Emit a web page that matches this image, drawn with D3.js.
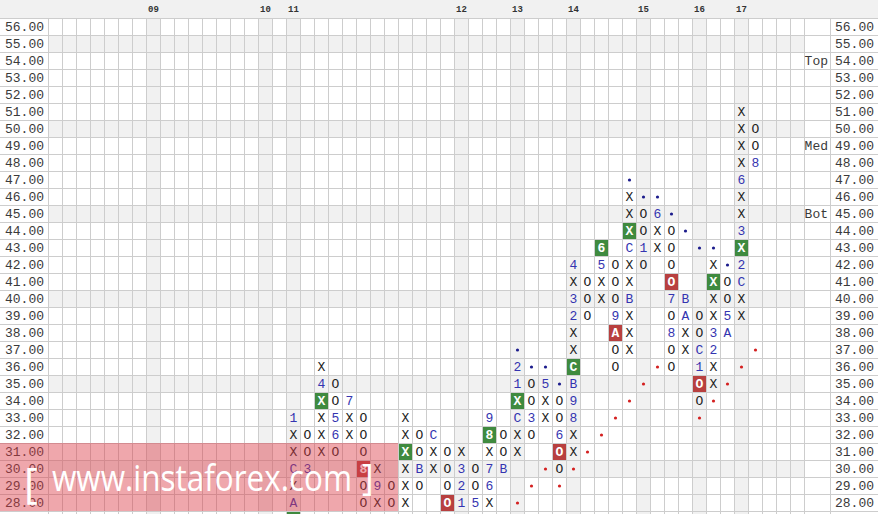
<!DOCTYPE html>
<html><head><meta charset="utf-8">
<script src="https://cdn.jsdelivr.net/npm/d3@7"></script>
<style>
html,body{margin:0;padding:0;background:#fff;overflow:hidden}
svg{display:block}
</style></head><body>
<svg id="c" width="878" height="514"></svg>
<script>
// ---- data ----
const prices = [56,55,54,53,52,51,50,49,48,47,46,45,44,43,42,41,40,39,38,37,36,35,34,33,32,31,30,29,28,27];
const priceTicks = [56,55,54,53,52,51,50,49,48,47,46,45,44,43,42,41,40,39,38,37,36,35,34,33,32,31,30,29,28];
const priceLabels = ["56.00","55.00","54.00","53.00","52.00","51.00","50.00","49.00","48.00","47.00","46.00","45.00","44.00","43.00","42.00","41.00","40.00","39.00","38.00","37.00","36.00","35.00","34.00","33.00","32.00","31.00","30.00","29.00","28.00"];
const shadedPrices = [55,50,45,40,35,30];
const yearLabels = ["09","10","11","12","13","14","15","16","17"];
const yearColumns = [7,15,17,29,33,37,42,46,49];
const zoneLabels = ["Top","Med","Bot"];
const zonePrices = [54,49,45];
// each column: index, highest price, marks from top downward
// X / O = box, digit/letter = month marker, g* = green box, r* = red box, b. = blue dot, r. = red dot, _ = empty
const columnIndex = [17,18,19,20,21,22,23,24,25,26,27,28,29,30,31,32,33,34,35,36,37,38,39,40,41,42,43,44,45,46,47,48,49,50];
const columnTop   = [33,32,36,35,34,33,30,29,33,32,32,31,31,30,33,32,37,36,36,35,42,41,43,42,47,46,46,45,44,43,43,42,51,50];
const columnMarks = [
  "1 X X C X A gX",
  "O O 3",
  "X 4 gX X X X",
  "O O 5 6 O",
  "7 X X",
  "O O O r8 O O",
  "X 9 X",
  "O O",
  "X X gX X X X",
  "O O B O",
  "C X X",
  "O O O rO",
  "X 3 2 1",
  "O O 5",
  "9 g8 X 7 6 X",
  "O O B",
  "b. 2 1 gX C X X _ _ r.",
  "b. O O 3 O _ _ r.",
  "b. 5 X X _ _ r.",
  "b. O O 6 rO O r.",
  "4 X 3 2 X X gC B 9 8 X X r.",
  "O O O _ _ _ _ _ _ _ r.",
  "g6 5 X X _ _ _ _ _ _ _ r.",
  "O O O 9 rA O O _ _ r.",
  "b. X X gX C X X B X X X _ _ r.",
  "b. O O 1 O _ _ _ _ _ _ r.",
  "b. 6 X X _ _ _ _ _ _ r.",
  "b. O O O rO 7 O 8 O O",
  "b. _ _ _ B A X X",
  "b. _ _ _ O O C 1 rO O r.",
  "b. X gX X X 3 2 X X r.",
  "b. O O 5 A _ _ r.",
  "X X X X 6 X X 3 gX 2 C X X _ _ r.",
  "O O 8 _ _ _ _ _ _ _ _ _ _ r."
];
const nColumns = 54;

// ---- build cells ----
const cells = [];
columnIndex.forEach((c, k) => {
  columnMarks[k].split(" ").forEach((t, j) => {
    if (t !== "_") cells.push({col: c, price: columnTop[k] - j, tok: t});
  });
});

// ---- scales ----
const svg = d3.select("#c");
const x = d3.scaleBand().domain(d3.range(nColumns)).range([48, 804]);
const y = d3.scaleBand().domain(prices).range([18, 18 + prices.length * 17]);
const cw = x.bandwidth(), rh = y.bandwidth();

// backgrounds
svg.append("rect").attr("x",0).attr("y",0).attr("width",878).attr("height",18).attr("fill","#f1f1f1");
svg.append("g").selectAll("rect").data(shadedPrices).join("rect")
  .attr("x", 48).attr("width", 804 - 48).attr("y", d => y(d)).attr("height", rh).attr("fill", "#f1f1f1");
svg.append("g").selectAll("rect").data(yearColumns).join("rect")
  .attr("x", d => x(d)).attr("width", cw).attr("y", 18).attr("height", 514 - 18).attr("fill", "#f1f1f1");

// grid lines
const grid = svg.append("g").attr("stroke", "#cdcdcd").attr("stroke-width", 1).attr("shape-rendering","crispEdges");
grid.selectAll("line.h").data(prices.concat([null])).join("line")
  .attr("x1", 0).attr("x2", 878)
  .attr("y1", (d,i) => 18 + i*rh + 0.5).attr("y2", (d,i) => 18 + i*rh + 0.5);
grid.selectAll("line.v").data(d3.range(nColumns + 1)).join("line")
  .attr("x1", d => 48 + d*cw + 0.5).attr("x2", d => 48 + d*cw + 0.5)
  .attr("y1", 18).attr("y2", 514);
grid.append("line").attr("x1", 830.5).attr("x2", 830.5).attr("y1", 18).attr("y2", 514);

// year labels
svg.append("g").selectAll("text").data(yearLabels).join("text")
  .attr("x", (d,i) => x(yearColumns[i]) + 2).attr("y", 12)
  .attr("font-family", "Liberation Mono, monospace").attr("font-size", 9).attr("font-weight", "bold")
  .attr("fill", "#333").text(d => d);

// axes
const fmt = d => priceLabels[priceTicks.indexOf(d)];
const leftAxis = svg.append("g").attr("transform", "translate(48,0)")
  .call(d3.axisLeft(y).tickValues(priceTicks).tickSize(0).tickPadding(4).tickFormat(fmt));
const rightAxis = svg.append("g").attr("transform", "translate(874,0)")
  .call(d3.axisLeft(y).tickValues(priceTicks).tickSize(0).tickPadding(0).tickFormat(fmt));
[leftAxis, rightAxis].forEach(g => {
  g.select(".domain").remove();
  g.selectAll("text").attr("font-family", "Liberation Mono, monospace").attr("font-size", 13).attr("fill", "#3a3a3a");
});

// zone labels
svg.append("g").selectAll("text").data(zoneLabels).join("text")
  .attr("x", 828).attr("y", (d,i) => y(zonePrices[i]) + rh/2).attr("dy", "0.32em")
  .attr("text-anchor", "end")
  .attr("font-family", "Liberation Mono, monospace").attr("font-size", 13).attr("fill", "#3a3a3a")
  .text(d => d);

// marks
const mg = svg.append("g");
const boxed = cells.filter(d => d.tok.length === 2 && d.tok[1] !== ".");
mg.selectAll("rect").data(boxed).join("rect")
  .attr("x", d => x(d.col) + 1).attr("y", d => y(d.price) + 1)
  .attr("width", cw - 1).attr("height", rh - 1)
  .attr("fill", d => d.tok[0] === "g" ? "#3f8a3f" : "#b8403f");
const dots = cells.filter(d => d.tok.length === 2 && d.tok[1] === ".");
mg.selectAll("circle").data(dots).join("circle")
  .attr("cx", d => x(d.col) + cw/2 + 0.5).attr("cy", d => y(d.price) + rh/2 + 0.5)
  .attr("r", 1.6)
  .attr("fill", d => d.tok[0] === "b" ? "#1c1c8c" : "#d42020");
const texts = cells.filter(d => !(d.tok.length === 2 && d.tok[1] === ".") && d.price >= 28);
mg.selectAll("text").data(texts).join("text")
  .attr("x", d => x(d.col) + cw/2 + 0.5).attr("y", d => y(d.price) + rh/2 + 0.5).attr("dy", "0.34em")
  .attr("text-anchor", "middle")
  .attr("font-family", "Liberation Mono, monospace").attr("font-size", 13)
  .attr("font-weight", d => d.tok.length === 2 ? "bold" : "normal")
  .attr("fill", d => {
    if (d.tok.length === 2) return "#ffffff";
    if (d.tok === "X" || d.tok === "O") return "#222222";
    return "#3434b0";
  })
  .text(d => d.tok.length === 2 ? d.tok[1] : d.tok);

// watermark
const wm = svg.append("g");
wm.append("rect").attr("x", 0).attr("y", y(31)).attr("width", x(25)).attr("height", 4*rh)
  .attr("fill", "#dc3c46").attr("opacity", 0.45);
wm.append("text").attr("x", 24).attr("y", 498).attr("font-family", "Open Sans, sans-serif")
  .attr("font-size", 42).attr("fill", "#fff").text("[");
wm.append("text").attr("x", 52).attr("y", 491).attr("font-family", "Open Sans, sans-serif")
  .attr("font-size", 37).attr("fill", "#fff")
  .attr("textLength", 300).attr("lengthAdjust", "spacingAndGlyphs").text("www.instaforex.com");
wm.append("text").attr("x", 362).attr("y", 490).attr("font-family", "Open Sans, sans-serif")
  .attr("font-size", 36).attr("fill", "#fff").text("]");
</script>
</body></html>
